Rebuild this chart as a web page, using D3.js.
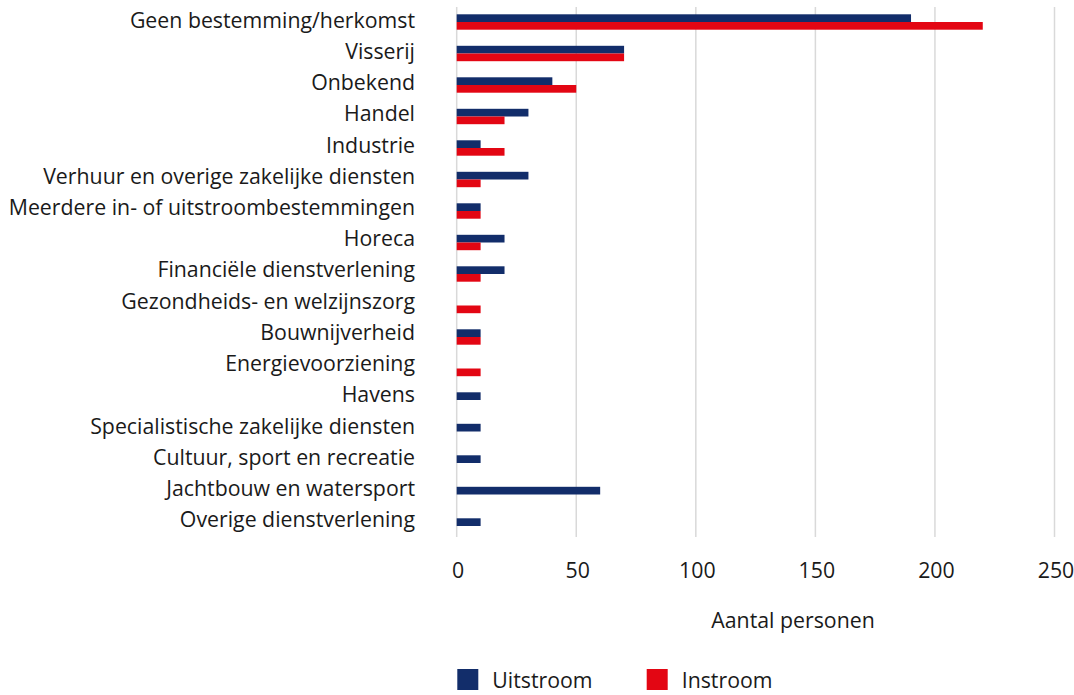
<!DOCTYPE html>
<html>
<head>
<meta charset="utf-8">
<script src="https://cdn.jsdelivr.net/npm/d3@7"></script>
<style>
  html, body { margin: 0; padding: 0; background: #fff; }
  svg { display: block; font-family: "Open Sans", "Noto Sans", sans-serif; }
</style>
</head>
<body>
<svg id="chart" width="1074" height="695"></svg>
<script>
// Sectors of destination / origin
const categories = [
  "Geen bestemming/herkomst",
  "Visserij",
  "Onbekend",
  "Handel",
  "Industrie",
  "Verhuur en overige zakelijke diensten",
  "Meerdere in- of uitstroombestemmingen",
  "Horeca",
  "Financiële dienstverlening",
  "Gezondheids- en welzijnszorg",
  "Bouwnijverheid",
  "Energievoorziening",
  "Havens",
  "Specialistische zakelijke diensten",
  "Cultuur, sport en recreatie",
  "Jachtbouw en watersport",
  "Overige dienstverlening"
];
const uitstroom = [190, 70, 40, 30, 10, 30, 10, 20, 20, 0, 10, 0, 10, 10, 10, 60, 10];
const instroom  = [220, 70, 50, 20, 20, 10, 10, 10, 10, 10, 10, 10, 0, 0, 0, 0, 0];
const xTicks = [0, 50, 100, 150, 200, 250];
const seriesNames = ["Uitstroom", "Instroom"];
const seriesColors = ["#122d6a", "#e30613"];

const FONT = 21.3;
const TEXT = "#1a1a1a";

const svg = d3.select("#chart");

const x = d3.scaleLinear().domain([0, 250]).range([456.7, 1054.5]);
const y = d3.scaleBand().domain(categories).range([7, 7 + 31.5 * categories.length]);
// label baselines follow their own slightly tighter spacing
const yLabel = d3.scalePoint().domain(categories).range([27.7, 527.2]);
const gridTop = 7, gridBottom = 537;
const barH = 7.7, barOffset = 7.3;

// vertical gridlines
svg.append("g")
  .selectAll("line")
  .data(xTicks)
  .join("line")
  .attr("x1", d => x(d)).attr("x2", d => x(d))
  .attr("y1", gridTop).attr("y2", gridBottom)
  .attr("stroke", "#d9d9d9")
  .attr("stroke-width", 1.5);

// bars
const series = [uitstroom, instroom];
series.forEach((vals, si) => {
  svg.append("g")
    .selectAll("rect")
    .data(categories.map((c, i) => ({ c, v: vals[i] })).filter(d => d.v > 0))
    .join("rect")
    .attr("x", x(0))
    .attr("y", d => y(d.c) + barOffset + si * barH)
    .attr("width", d => x(d.v) - x(0))
    .attr("height", barH)
    .attr("fill", seriesColors[si]);
});

// category labels
svg.append("g")
  .selectAll("text")
  .data(categories)
  .join("text")
  .attr("x", 415)
  .attr("y", d => yLabel(d))
  .attr("text-anchor", "end")
  .attr("font-size", FONT)
  .attr("fill", TEXT)
  .text(d => d);

// x-axis tick labels
const xAxis = d3.axisBottom(x).tickValues(xTicks).tickSize(0).tickPadding(0);
const gx = svg.append("g").attr("transform", "translate(1,0)").call(xAxis);
gx.select(".domain").remove();
gx.selectAll("text")
  .attr("y", 578.3).attr("dy", null)
  .attr("font-size", FONT).attr("fill", TEXT)
  .attr("font-family", "'Open Sans', 'Noto Sans', sans-serif");

// axis title
svg.append("text")
  .attr("x", 793).attr("y", 628)
  .attr("text-anchor", "middle")
  .attr("font-size", FONT).attr("fill", TEXT)
  .text("Aantal personen");

// legend
const legendX = [457.3, 646.7];
const lg = svg.append("g");
seriesNames.forEach((name, i) => {
  lg.append("rect")
    .attr("x", legendX[i]).attr("y", 669)
    .attr("width", 21).attr("height", 21)
    .attr("fill", seriesColors[i]);
  lg.append("text")
    .attr("x", legendX[i] + 35).attr("y", 687.5)
    .attr("font-size", FONT).attr("fill", TEXT)
    .text(name);
});
</script>
</body>
</html>
